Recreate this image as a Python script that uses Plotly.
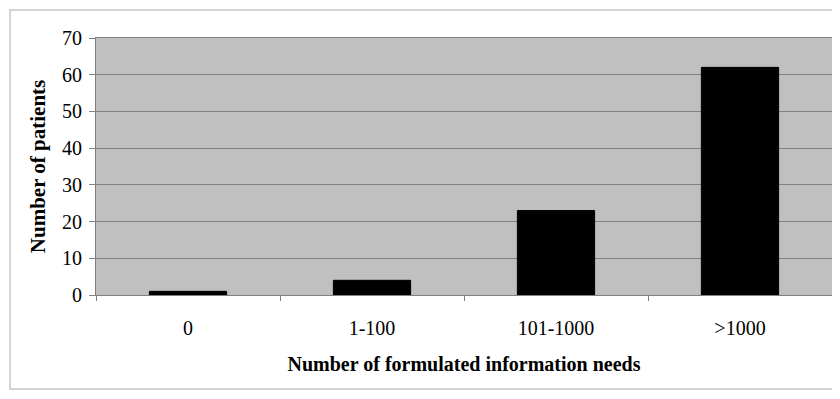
import plotly.graph_objects as go

categories = ["0", "1-100", "101-1000", ">1000"]
patients = [1, 4, 23, 62]
y_ticks = [0, 10, 20, 30, 40, 50, 60, 70]

font_family = "Liberation Serif, Times New Roman, serif"

# The page body adds an 8px offset, so the figure is sized to fill the rest of the window.
fig = go.Figure(
    go.Bar(
        x=categories,
        y=patients,
        marker=dict(color="black", line=dict(color="black", width=1)),
        width=0.42,
    )
)

fig.update_layout(
    width=832,
    height=391,
    margin=dict(l=88, r=8, t=30, b=104, autoexpand=False),
    paper_bgcolor="white",
    plot_bgcolor="#c0c0c0",
    showlegend=False,
    font=dict(family=font_family, size=20, color="black"),
    shapes=[
        dict(type="rect", xref="paper", yref="paper",
             x0=-86 / 736, x1=740 / 736, y0=-94 / 257, y1=285 / 257,
             line=dict(color="#d4d4d4", width=2), fillcolor="rgba(0,0,0,0)", layer="below"),
    ],
)

fig.update_xaxes(
    type="category",
    automargin=False,
    tickson="boundaries",
    ticks="outside",
    ticklen=5,
    tickcolor="#808080",
    showgrid=False,
    showline=True,
    linecolor="#808080",
    linewidth=1,
    mirror=True,
    ticklabelstandoff=15,
    title=dict(text="<b>Number of formulated information needs</b>", standoff=18,
               font=dict(size=20)),
)

fig.update_yaxes(
    range=[0, 70],
    automargin=False,
    tickvals=y_ticks,
    ticks="outside",
    ticklen=6,
    tickcolor="#808080",
    showgrid=True,
    gridcolor="#808080",
    gridwidth=1,
    showline=True,
    linecolor="#808080",
    linewidth=1,
    mirror=True,
    zeroline=False,
    ticklabelstandoff=3,
    title=dict(text="<b>Number of patients</b>", standoff=10, font=dict(size=21)),
)

fig.write_html("out.html")
